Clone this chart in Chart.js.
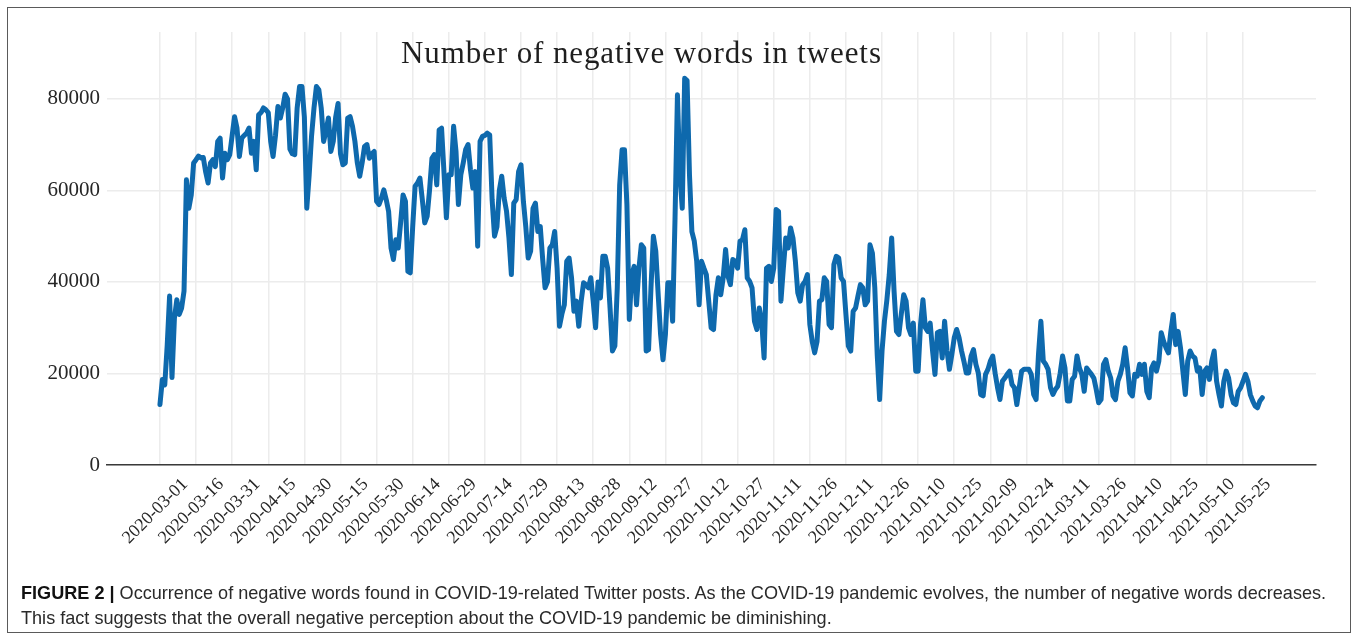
<!DOCTYPE html>
<html>
<head>
<meta charset="utf-8">
<title>Number of negative words in tweets</title>
<script src="https://cdn.jsdelivr.net/npm/chart.js@4"></script>
<style>
  html, body { margin: 0; padding: 0; background: #ffffff; }
  body { width: 1358px; height: 639px; position: relative; overflow: hidden; }
  #frame {
    position: absolute; left: 7px; top: 7px; width: 1344px; height: 626px;
    box-sizing: border-box; border: 1.5px solid #5a5a5a;
  }
  #chart { position: absolute; left: 0; top: 0; }
  #title {
    position: absolute; left: 401px; top: 37px; margin: 0;
    font-family: "Liberation Serif", "Times New Roman", serif;
    font-size: 31px; line-height: 31px; font-weight: normal;
    letter-spacing: 0.9px; color: #1e1e1e; white-space: nowrap;
  }
  #caption {
    position: absolute; left: 21px; top: 581px; margin: 0;
    font-family: "Liberation Sans", Arial, Helvetica, sans-serif;
    font-size: 18.1px; line-height: 25px; color: #2a2a2a; white-space: nowrap;
  }
  #caption b { color: #111; }
</style>
</head>
<body>
<div id="frame"></div>
<canvas id="chart" width="1358" height="639"></canvas>
<div id="title">Number of negative words in tweets</div>
<p id="caption"><b>FIGURE 2 |</b> Occurrence of negative words found in COVID-19-related Twitter posts. As the COVID-19 pandemic evolves, the number of negative words decreases.<br>This fact suggests that the overall negative perception about the COVID-19 pandemic be diminishing.</p>
<script>
// Daily counts of negative words, one value per day starting on startDate.
const startDate = '2020-03-01';

const negativeWords = [
  13200, 18700, 17500, 26000, 36900, 19100, 32000, 36100, 32900, 34300, 38000, 62300, 56100, 59000, 66000,
  66700, 67500, 67100, 67200, 64000, 61600, 66000, 66700, 65200, 70700, 71400, 62700, 68100, 66700, 67800,
  72000, 76100, 73600, 67400, 71400, 72000, 72500, 73600, 68100, 70700, 64500, 76500, 77000, 78000, 77600,
  77000, 70700, 67400, 72000, 78300, 75800, 78000, 81000, 80000, 69000, 68000, 67800, 78000, 82700, 82700,
  76000, 56100, 63400, 72000, 78000, 82700, 82000, 78000, 70700, 73000, 75800, 68500, 70700, 76000, 79000,
  68000, 65600, 66000, 75800, 76100, 74000, 70700, 66000, 63100, 66000, 69600, 70000, 67000, 68000, 68500,
  57600, 56900, 58300, 60100, 58000, 55400, 47400, 44900, 49200, 47400, 53000, 59000, 57600, 42300, 42000,
  52000, 60900, 61600, 62700, 58000, 52900, 54300, 60000, 67000, 67800, 61200, 73200, 73600, 64000, 54000,
  63400, 63400, 74000, 68500, 56900, 63400, 66000, 68900, 70000, 64500, 60500, 64100, 47800, 70700, 71800,
  72000, 72500, 72100, 58000, 50000, 52000, 60000, 63100, 58300, 55400, 49600, 41600, 57200, 58000, 64100,
  65600, 57600, 52000, 45200, 46700, 56100, 57200, 51000, 52100, 45000, 38700, 40000, 47400, 48100, 51000,
  43000, 30300, 33000, 35000, 44500, 45200, 40900, 33600, 35800, 30300, 35800, 39800, 39400, 38700, 40900,
  35800, 30000, 40000, 36500, 45600, 45600, 43000, 34300, 24900, 26000, 38700, 61200, 68900, 68900, 56900,
  31800, 41600, 43400, 35000, 43000, 48100, 47400, 24900, 25200, 38700, 50000, 46700, 37200, 28500, 23000,
  28500, 39800, 39800, 31400, 54000, 80900, 63400, 56100, 84500, 84000, 63400, 51000, 48900, 44500, 35000,
  44500, 43000, 41600, 35800, 30000, 29600, 37200, 40900, 37200, 40900, 47100, 41200, 39400, 44900, 44500,
  43000, 48900, 49200, 51400, 40900, 40100, 38700, 31400, 29600, 34300, 31400, 23400, 43000, 43400, 40100,
  43000, 55800, 55400, 35800, 43000, 49600, 47400, 51800, 49600, 44500, 37600, 35800, 39400, 40100, 41600,
  30700, 27000, 24500, 27000, 35800, 36100, 40900, 40100, 30700, 30000, 43800, 45600, 45200, 40900, 40100,
  32900, 26000, 24900, 33600, 34300, 36900, 39400, 38700, 35000, 35800, 48100, 46300, 38700, 24100, 14300,
  24900, 31400, 36000, 41600, 49600, 38000, 29200, 28500, 33000, 37200, 35800, 30000, 28500, 31000, 20500,
  20500, 30700, 36100, 30000, 29200, 31000, 24900, 19800, 28900, 29200, 23400, 31400, 24900, 20900, 24100,
  27800, 29600, 27800, 25000, 22700, 20100, 20100, 23800, 25200, 22000, 20100, 15400, 15100, 19800, 20900,
  22700, 23800, 20000, 16900, 14300, 18300, 19000, 19800, 20500, 17600, 16900, 13200, 16900, 20500, 20900,
  20900, 20900, 19800, 15400, 14300, 24100, 31400, 22700, 22000, 20900, 16900, 15400, 16500, 17200, 20000,
  23800, 21200, 14000, 14000, 18700, 19400, 23800, 21200, 19800, 16100, 21200, 20500, 19800, 19000, 16500,
  13600, 14300, 22000, 23000, 20500, 19000, 15100, 14300, 18300, 19800, 22000, 25600, 21200, 15800, 15100,
  19800, 19400, 22000, 19800, 22000, 16100, 14700, 21200, 22300, 20500, 22700, 28900, 27000, 25600, 24500,
  29200, 32900, 26300, 29200, 25600, 20500, 15400, 22700, 24900, 23800, 23400, 20500, 21200, 15400, 20500,
  21200, 18700, 22700, 24900, 18300, 15400, 12900, 18300, 20500, 19000, 15400, 13600, 13200, 16100, 16900,
  18300, 19800, 18300, 15400, 14000, 12900, 12500, 14000, 14700
];

const tickLabels = [
  '2020-03-01', '2020-03-16', '2020-03-31', '2020-04-15', '2020-04-30', '2020-05-15',
  '2020-05-30', '2020-06-14', '2020-06-29', '2020-07-14', '2020-07-29', '2020-08-13',
  '2020-08-28', '2020-09-12', '2020-09-27', '2020-10-12', '2020-10-27', '2020-11-11',
  '2020-11-26', '2020-12-11', '2020-12-26', '2021-01-10', '2021-01-25', '2021-02-09',
  '2021-02-24', '2021-03-11', '2021-03-26', '2021-04-10', '2021-04-25', '2021-05-10',
  '2021-05-25'
];

const yTickValues = [0, 20000, 40000, 60000, 80000];

// Position of a date on the x axis, counted in days from startDate.
function dayIndex(dateStr) {
  return Math.round((Date.parse(dateStr) - Date.parse(startDate)) / 86400000);
}
const tickDays = tickLabels.map(dayIndex);
const points = negativeWords.map((v, i) => ({ x: i, y: v }));

const serif = '"Liberation Serif", "Times New Roman", serif';
const gridColor = '#ececec';
const labelColor = '#262626';

new Chart(document.getElementById('chart'), {
  type: 'line',
  data: {
    datasets: [{
      label: 'negative words',
      data: points,
      borderColor: '#0e69ad',
      borderWidth: 5,
      borderJoinStyle: 'round',
      borderCapStyle: 'round',
      pointRadius: 0,
      tension: 0,
      fill: false
    }]
  },
  options: {
    responsive: false,
    animation: false,
    events: [],
    layout: { padding: { left: 0, right: 42, top: 32, bottom: 0 } },
    plugins: {
      legend: { display: false },
      tooltip: { enabled: false },
      title: { display: false }
    },
    scales: {
      x: {
        type: 'linear',
        min: -22,
        max: 480.3,
        afterBuildTicks: (scale) => { scale.ticks = tickDays.map(v => ({ value: v })); },
        afterFit: (scale) => { scale.height = 174; },
        grid: { color: gridColor, lineWidth: 1.5, drawTicks: false },
        border: { display: true, color: '#3a3a3a', width: 1.5 },
        ticks: {
          autoSkip: false,
          minRotation: 45,
          maxRotation: 45,
          labelOffset: 25,
          padding: 9,
          color: labelColor,
          font: { family: serif, size: 18 },
          callback: (v) => {
            const k = tickDays.indexOf(v);
            return k >= 0 ? tickLabels[k] : '';
          }
        }
      },
      y: {
        min: 0,
        max: 94600,
        afterBuildTicks: (scale) => { scale.ticks = yTickValues.map(v => ({ value: v })); },
        afterFit: (scale) => { scale.width = 107; },
        grid: { color: gridColor, lineWidth: 1.5, drawTicks: false },
        border: { display: false },
        ticks: {
          padding: 7,
          color: labelColor,
          font: { family: serif, size: 21 },
          callback: (v) => String(v)
        }
      }
    }
  }
});
</script>
</body>
</html>
